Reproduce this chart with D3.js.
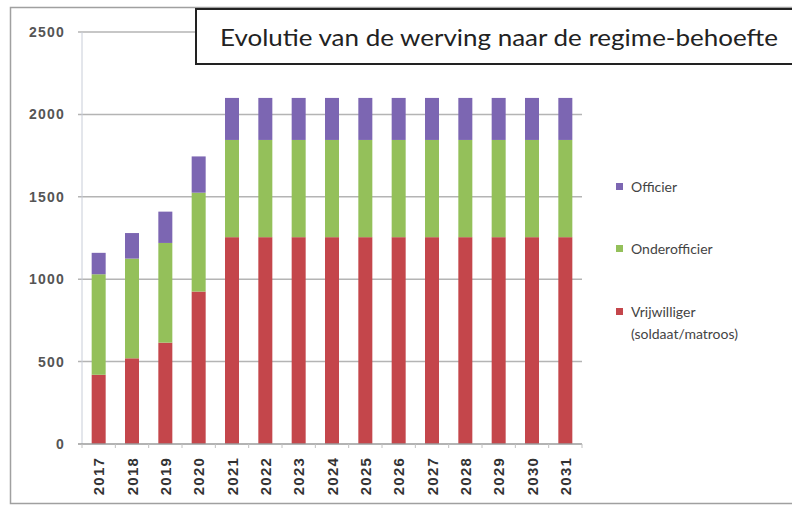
<!DOCTYPE html>
<html>
<head>
<meta charset="utf-8">
<script src="https://cdn.jsdelivr.net/npm/d3@7"></script>
<style>
  html, body { margin: 0; padding: 0; background: #fff; }
  svg { display: block; }
</style>
</head>
<body>
<svg id="chart" width="792" height="506"></svg>
<script>
const years = ['2017', '2018', '2019', '2020', '2021', '2022', '2023', '2024', '2025', '2026', '2027', '2028', '2029', '2030', '2031'];
const vrijwilliger = [420, 520, 615, 925, 1255, 1255, 1255, 1255, 1255, 1255, 1255, 1255, 1255, 1255, 1255];
const onderofficier = [610, 605, 605, 600, 590, 590, 590, 590, 590, 590, 590, 590, 590, 590, 590];
const officier = [130, 155, 190, 220, 255, 255, 255, 255, 255, 255, 255, 255, 255, 255, 255];
const seriesKeys = ['vrijwilliger', 'onderofficier', 'officier'];
const seriesColors = { vrijwilliger: '#c4464b', onderofficier: '#94c05a', officier: '#7c66b2' };
const yTicks = [0, 500, 1000, 1500, 2000, 2500];
const title = 'Evolutie van de werving naar de regime-behoefte';

const svg = d3.select('#chart');
const plot = { left: 82, right: 582, top: 32, bottom: 444 };

const rows = years.map((y, i) => ({
  year: y,
  vrijwilliger: vrijwilliger[i],
  onderofficier: onderofficier[i],
  officier: officier[i],
}));

const x = d3.scaleBand().domain(years).range([plot.left, plot.right]).paddingInner(0.58).paddingOuter(0.29);
const y = d3.scaleLinear().domain([0, 2500]).range([plot.bottom, plot.top]);

// outer frame (right side runs off the picture)
svg.append('path')
  .attr('d', 'M800,7.5 H10.5 V503.5 H800')
  .attr('fill', 'none').attr('stroke', '#a0a0a0').attr('stroke-width', 1.5);

// gridlines
svg.append('g')
  .selectAll('line')
  .data(yTicks.filter((t) => t > 0))
  .enter()
  .append('line')
  .attr('x1', plot.left - 4).attr('x2', plot.right)
  .attr('y1', (d) => y(d)).attr('y2', (d) => y(d))
  .attr('stroke', '#b4b4b4').attr('stroke-width', 1.5);

// y axis line
svg.append('line')
  .attr('x1', plot.left).attr('x2', plot.left)
  .attr('y1', plot.top).attr('y2', plot.bottom)
  .attr('stroke', '#c8cdd8').attr('stroke-width', 1);

// y labels
svg.append('g')
  .selectAll('text')
  .data(yTicks)
  .enter()
  .append('text')
  .attr('x', 65)
  .attr('y', (d) => y(d) + 5)
  .attr('text-anchor', 'end')
  .attr('font-family', 'Liberation Sans, sans-serif')
  .attr('font-size', 14)
  .attr('font-weight', 'bold')
  .attr('letter-spacing', 1.2)
  .attr('fill', '#555')
  .text((d) => d);

// stacked bars
const stacked = d3.stack().keys(seriesKeys)(rows);
svg.append('g')
  .selectAll('g')
  .data(stacked)
  .enter()
  .append('g')
  .attr('fill', (s) => seriesColors[s.key])
  .selectAll('rect')
  .data((s) => s)
  .enter()
  .append('rect')
  .attr('x', (d) => x(d.data.year))
  .attr('y', (d) => y(d[1]))
  .attr('width', x.bandwidth())
  .attr('height', (d) => y(d[0]) - y(d[1]));

// x axis line + ticks
svg.append('line')
  .attr('x1', plot.left - 4).attr('x2', plot.right)
  .attr('y1', plot.bottom).attr('y2', plot.bottom)
  .attr('stroke', '#9a9a9a').attr('stroke-width', 1.5);

const step = x.step();
svg.append('g')
  .selectAll('line')
  .data(d3.range(years.length + 1))
  .enter()
  .append('line')
  .attr('x1', (i) => plot.left + i * step).attr('x2', (i) => plot.left + i * step)
  .attr('y1', plot.bottom).attr('y2', plot.bottom + 4)
  .attr('stroke', '#c0c0c0').attr('stroke-width', 1);

// x labels
svg.append('g')
  .selectAll('text')
  .data(years)
  .enter()
  .append('text')
  .attr('transform', (d) => `translate(${x(d) + x.bandwidth() / 2 + 5.5},457) rotate(-90)`)
  .attr('text-anchor', 'end')
  .attr('font-family', 'Liberation Sans, sans-serif')
  .attr('font-size', 15)
  .attr('font-weight', 'bold')
  .attr('letter-spacing', 1.2)
  .attr('fill', '#333')
  .text((d) => d);

// legend
const legendItems = [
  { key: 'officier', lines: ['Officier'], y: 187 },
  { key: 'onderofficier', lines: ['Onderofficier'], y: 249 },
  { key: 'vrijwilliger', lines: ['Vrijwilliger', '(soldaat/matroos)'], y: 312 },
];
const lg = svg.append('g').selectAll('g').data(legendItems).enter().append('g');
lg.append('rect')
  .attr('x', 616).attr('y', (d) => d.y - 4)
  .attr('width', 7).attr('height', 7)
  .attr('fill', (d) => seriesColors[d.key]);
lg.append('text')
  .attr('x', 632)
  .attr('y', (d) => d.y + 5)
  .attr('font-family', 'Lato, sans-serif')
  .attr('font-size', 14)
  .attr('fill', '#444')
  .selectAll('tspan')
  .data((d) => d.lines)
  .enter()
  .append('tspan')
  .attr('x', 631)
  .attr('dy', (d, i) => (i ? 22 : 0))
  .text((d) => d);

// title box
svg.append('rect')
  .attr('x', 196).attr('y', 9)
  .attr('width', 620).attr('height', 55)
  .attr('fill', '#fff').attr('stroke', '#222').attr('stroke-width', 2);
svg.append('text')
  .attr('x', 220).attr('y', 46)
  .attr('font-family', 'Lato, sans-serif')
  .attr('font-size', 23)
  .attr('fill', '#222')
  .attr('textLength', 558)
  .attr('lengthAdjust', 'spacingAndGlyphs')
  .text(title);
</script>
</body>
</html>
